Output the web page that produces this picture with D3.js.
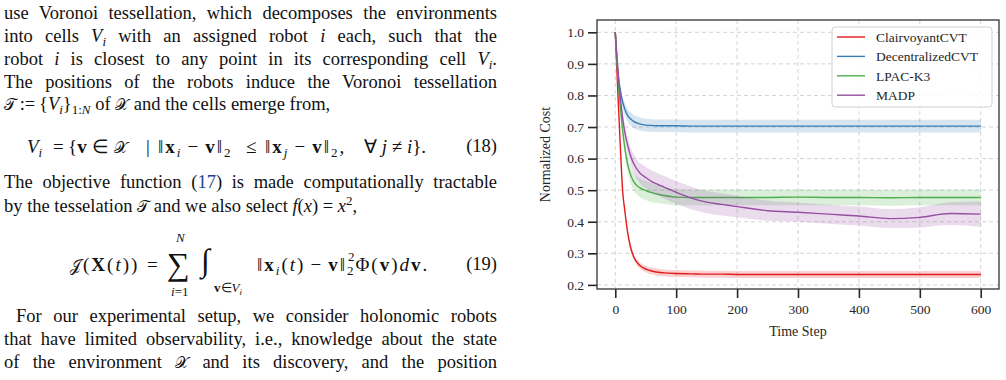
<!DOCTYPE html>
<html>
<head>
<meta charset="utf-8">
<script src="https://d3js.org/d3.v7.min.js"></script>
<style>
body { margin: 0; background: #fff; }
#page { position: relative; width: 1006px; height: 380px; overflow: hidden; }
#chart { position: absolute; left: 0; top: 0; }
.ln { position: absolute; left: 4px; width: 493px; font-family: "Liberation Serif", serif; font-size: 18.5px; line-height: 23px; color: #111; }
.m { position: absolute; font-family: "Liberation Serif", serif; font-size: 19px; line-height: 23px; color: #111; white-space: nowrap; }
.j { text-align: justify; text-align-last: justify; }
.sb { font-size: 13px; position: relative; top: 4px; }
.sp { font-size: 13px; position: relative; top: -7px; }
.cal { font-family: "DejaVu Serif", serif; font-size: 15.5px; }
.ref { color: #1d3f95; }
.big { font-size: 32px; }
.tiny { font-size: 13px; }
.ns { letter-spacing: 2px; }
.bin { margin: 0 5px; }
.rel { margin: 0 5px; }
</style>
</head>
<body>
<div id="page">
  <div id="chart"></div>

  <div class="ln j" style="top:2px">use Voronoi tessellation, which decomposes the environments</div>
  <div class="ln j" style="top:25px">into cells <i>V</i><span class="sb"><i>i</i></span> with an assigned robot <i>i</i> each, such that the</div>
  <div class="ln j" style="top:48px">robot <i>i</i> is closest to any point in its corresponding cell <i>V</i><span class="sb"><i>i</i></span>.</div>
  <div class="ln j" style="top:71px">The positions of the robots induce the Voronoi tessellation</div>
  <div class="ln" style="top:93px"><span class="cal">𝒯</span>&thinsp;:=&thinsp;{<i>V</i><span class="sb"><i>i</i></span>}<span class="sb">1:<i>N</i></span> of <span class="cal">𝒳</span> and the cells emerge from,</div>

  <!-- equation (18) -->
  <div class="m" style="top:135px;left:27px"><i>V</i><span class="sb"><i>i</i></span></div>
  <div class="m" style="top:135px;left:53px">=</div>
  <div class="m" style="top:135px;left:68px">{<b>v</b><span class="rel">∈</span><span class="cal">𝒳</span></div>
  <div class="m" style="top:135px;left:146px">|</div>
  <div class="m ns" style="top:135px;left:158px">‖<b>x</b><span class="sb"><i>i</i></span><span class="bin">−</span><b>v</b>‖<span class="sb">2</span></div>
  <div class="m" style="top:135px;left:246px">≤</div>
  <div class="m ns" style="top:135px;left:265px">‖<b>x</b><span class="sb"><i>j</i></span><span class="bin">−</span><b>v</b>‖<span class="sb">2</span>,</div>
  <div class="m" style="top:135px;left:364px">∀ <i>j</i> ≠ <i>i</i>}.</div>
  <div class="ln" style="top:135px;text-align:right">(18)</div>

  <div class="ln j" style="top:171px">The objective function (<span class="ref">17</span>) is made computationally tractable</div>
  <div class="ln" style="top:195px">by the tesselation <span class="cal">𝒯</span> and we also select <i>f</i>(<i>x</i>) = <i>x</i><span class="sp">2</span>,</div>

  <!-- equation (19) -->
  <div class="m ns" style="top:253px;left:70px"><span class="cal">𝒥</span>(<b>X</b>(<i>t</i>))</div>
  <div class="m" style="top:253px;left:147px">=</div>
  <div class="m big" style="top:253px;left:167px">∑</div>
  <div class="m tiny" style="top:226px;left:176px"><i>N</i></div>
  <div class="m tiny" style="top:280px;left:171px"><i>i</i>=1</div>
  <div class="m big" style="top:249px;left:201px;font-style:italic">∫</div>
  <div class="m tiny" style="top:276px;left:214px"><b>v</b>∈<i>V</i><span style="font-size:9px;position:relative;top:3px"><i>i</i></span></div>
  <div class="m ns" style="top:253px;left:257px">‖<b>x</b><span class="sb"><i>i</i></span>(<i>t</i>)<span class="bin">−</span><b>v</b>‖<span style="position:relative"><span style="font-size:13px;position:absolute;left:1px;top:-9px">2</span><span style="font-size:13px;position:relative;top:4px">2</span></span>Φ(<b>v</b>)<i>d</i><b>v</b>.</div>
  <div class="ln" style="top:253px;text-align:right">(19)</div>

  <div class="ln j" style="top:305px;left:16px;width:481px">For our experimental setup, we consider holonomic robots</div>
  <div class="ln j" style="top:328px">that have limited observability, i.e., knowledge about the state</div>
  <div class="ln j" style="top:351px">of the environment <span class="cal">𝒳</span> and its discovery, and the position</div>
</div>

<script>
// time steps (x) shared by every series
var steps = [0, 4, 8, 12, 16, 20, 25, 30, 40, 50, 60, 70, 80, 100, 125, 150, 175, 200, 250, 300, 350, 400, 450, 500, 550, 600];

// mean normalized cost per method
var clairvoyant   = [1.0, 0.82, 0.65, 0.50, 0.43, 0.37, 0.32, 0.29, 0.262, 0.25, 0.244, 0.240, 0.238, 0.236, 0.235, 0.234, 0.234, 0.233, 0.233, 0.233, 0.233, 0.233, 0.233, 0.233, 0.233, 0.233];
var decentralized = [1.0, 0.88, 0.82, 0.78, 0.755, 0.738, 0.726, 0.718, 0.71, 0.706, 0.705, 0.704, 0.704, 0.704, 0.703, 0.703, 0.703, 0.703, 0.703, 0.703, 0.703, 0.703, 0.703, 0.703, 0.703, 0.703];
var lpac          = [1.0, 0.87, 0.77, 0.69, 0.63, 0.585, 0.55, 0.528, 0.508, 0.499, 0.492, 0.487, 0.483, 0.478, 0.477, 0.477, 0.477, 0.477, 0.477, 0.478, 0.477, 0.477, 0.476, 0.477, 0.477, 0.477];
var madp          = [1.0, 0.89, 0.80, 0.73, 0.68, 0.645, 0.61, 0.585, 0.555, 0.54, 0.527, 0.518, 0.51, 0.493, 0.475, 0.462, 0.455, 0.448, 0.435, 0.43, 0.424, 0.418, 0.41, 0.414, 0.426, 0.424];

// half width of the shaded band
var clairvoyantBand   = [0, 0.004, 0.006, 0.008, 0.008, 0.008, 0.009, 0.009, 0.01, 0.01, 0.011, 0.011, 0.011, 0.011, 0.011, 0.011, 0.011, 0.011, 0.011, 0.011, 0.011, 0.011, 0.011, 0.011, 0.011, 0.011];
var decentralizedBand = [0, 0.01, 0.015, 0.018, 0.02, 0.02, 0.021, 0.021, 0.021, 0.02, 0.02, 0.02, 0.02, 0.02, 0.02, 0.02, 0.02, 0.02, 0.02, 0.02, 0.02, 0.02, 0.02, 0.02, 0.02, 0.02];
var lpacBand          = [0, 0.01, 0.015, 0.02, 0.022, 0.025, 0.027, 0.028, 0.03, 0.03, 0.03, 0.028, 0.027, 0.026, 0.025, 0.025, 0.025, 0.025, 0.025, 0.025, 0.025, 0.025, 0.025, 0.025, 0.025, 0.025];
var madpBand          = [0, 0.01, 0.015, 0.02, 0.022, 0.025, 0.027, 0.03, 0.032, 0.034, 0.035, 0.035, 0.036, 0.036, 0.036, 0.035, 0.035, 0.034, 0.032, 0.03, 0.03, 0.03, 0.03, 0.032, 0.036, 0.04];

var names = ["ClairvoyantCVT", "DecentralizedCVT", "LPAC-K3", "MADP"];
var colors = ["#e41a1c", "#377eb8", "#4daf4a", "#984ea3"];
var xTicks = [0, 100, 200, 300, 400, 500, 600];
var yTicks = [0.2, 0.3, 0.4, 0.5, 0.6, 0.7, 0.8, 0.9, 1.0];

var means = [clairvoyant, decentralized, lpac, madp];
var bands = [clairvoyantBand, decentralizedBand, lpacBand, madpBand];

var W = 1006, H = 380;
var pL = 597, pR = 999, pT = 20, pB = 289;
var font = "'Liberation Serif', serif";

var svg = d3.select("#chart").append("svg")
  .attr("width", W)
  .attr("height", H);

var x = d3.scaleLinear().domain([-30, 630]).range([pL, pR]);
var y = d3.scaleLinear().domain([0.187, 1.039]).range([pB, pT]);

// grid
svg.append("g").selectAll("line").data(xTicks).join("line")
  .attr("x1", d => x(d)).attr("x2", d => x(d))
  .attr("y1", pT).attr("y2", pB)
  .attr("stroke", "#cfcfcf").attr("stroke-width", 0.9).attr("stroke-dasharray", "4,3");
svg.append("g").selectAll("line").data(yTicks).join("line")
  .attr("x1", pL).attr("x2", pR)
  .attr("y1", d => y(d)).attr("y2", d => y(d))
  .attr("stroke", "#cfcfcf").attr("stroke-width", 0.9).attr("stroke-dasharray", "4,3");

// bands + lines
var area = d3.area()
  .x(d => x(d.t))
  .y0(d => y(d.m - d.b))
  .y1(d => y(d.m + d.b))
  .curve(d3.curveMonotoneX);
var line = d3.line()
  .x(d => x(d.t))
  .y(d => y(d.m))
  .curve(d3.curveMonotoneX);

means.forEach(function(m, k) {
  var pts = steps.map((t, i) => ({ t: t, m: m[i], b: bands[k][i] }));
  svg.append("path").datum(pts)
    .attr("d", area)
    .attr("fill", colors[k])
    .attr("fill-opacity", 0.2);
  svg.append("path").datum(pts)
    .attr("d", line)
    .attr("fill", "none")
    .attr("stroke", colors[k])
    .attr("stroke-width", 1.4);
});

// axes
var xAxis = svg.append("g")
  .attr("transform", "translate(0," + pB + ")")
  .call(d3.axisBottom(x).tickValues(xTicks).tickSize(9).tickPadding(6));
var yAxis = svg.append("g")
  .attr("transform", "translate(" + pL + ",0)")
  .call(d3.axisLeft(y).tickValues(yTicks).tickFormat(d3.format(".1f")).tickSize(9).tickPadding(4));
[xAxis, yAxis].forEach(function(g) {
  g.select(".domain").remove();
  g.selectAll("line").attr("stroke", "#262626").attr("stroke-width", 1.6);
  g.selectAll("text").attr("fill", "#262626").style("font-family", font).style("font-size", "13.5px");
});

// frame
svg.append("rect")
  .attr("x", pL).attr("y", pT)
  .attr("width", pR - pL).attr("height", pB - pT)
  .attr("fill", "none").attr("stroke", "#333").attr("stroke-width", 1.3);

// axis titles
svg.append("text")
  .attr("x", (pL + pR) / 2).attr("y", 336)
  .attr("text-anchor", "middle")
  .style("font-family", font).style("font-size", "14px").attr("fill", "#262626")
  .text("Time Step");
svg.append("text")
  .attr("transform", "translate(550," + (pT + pB) / 2 + ") rotate(-90)")
  .attr("text-anchor", "middle")
  .style("font-family", font).style("font-size", "14px").attr("fill", "#262626")
  .text("Normalized Cost");

// legend
var lg = svg.append("g");
lg.append("rect")
  .attr("x", 832).attr("y", 27).attr("width", 160).attr("height", 80).attr("rx", 3)
  .attr("fill", "#fff").attr("fill-opacity", 0.85)
  .attr("stroke", "#d0d0d0").attr("stroke-width", 1);
var items = lg.selectAll("g.item").data(names).join("g")
  .attr("transform", (d, i) => "translate(837," + (37 + i * 19.4) + ")");
items.append("line")
  .attr("x1", 0).attr("x2", 28)
  .attr("stroke", (d, i) => colors[i]).attr("stroke-width", 1.4);
items.append("text")
  .attr("x", 39).attr("dy", "0.35em")
  .style("font-family", font).style("font-size", "13.5px").attr("fill", "#262626")
  .text(d => d);
</script>
</body>
</html>
